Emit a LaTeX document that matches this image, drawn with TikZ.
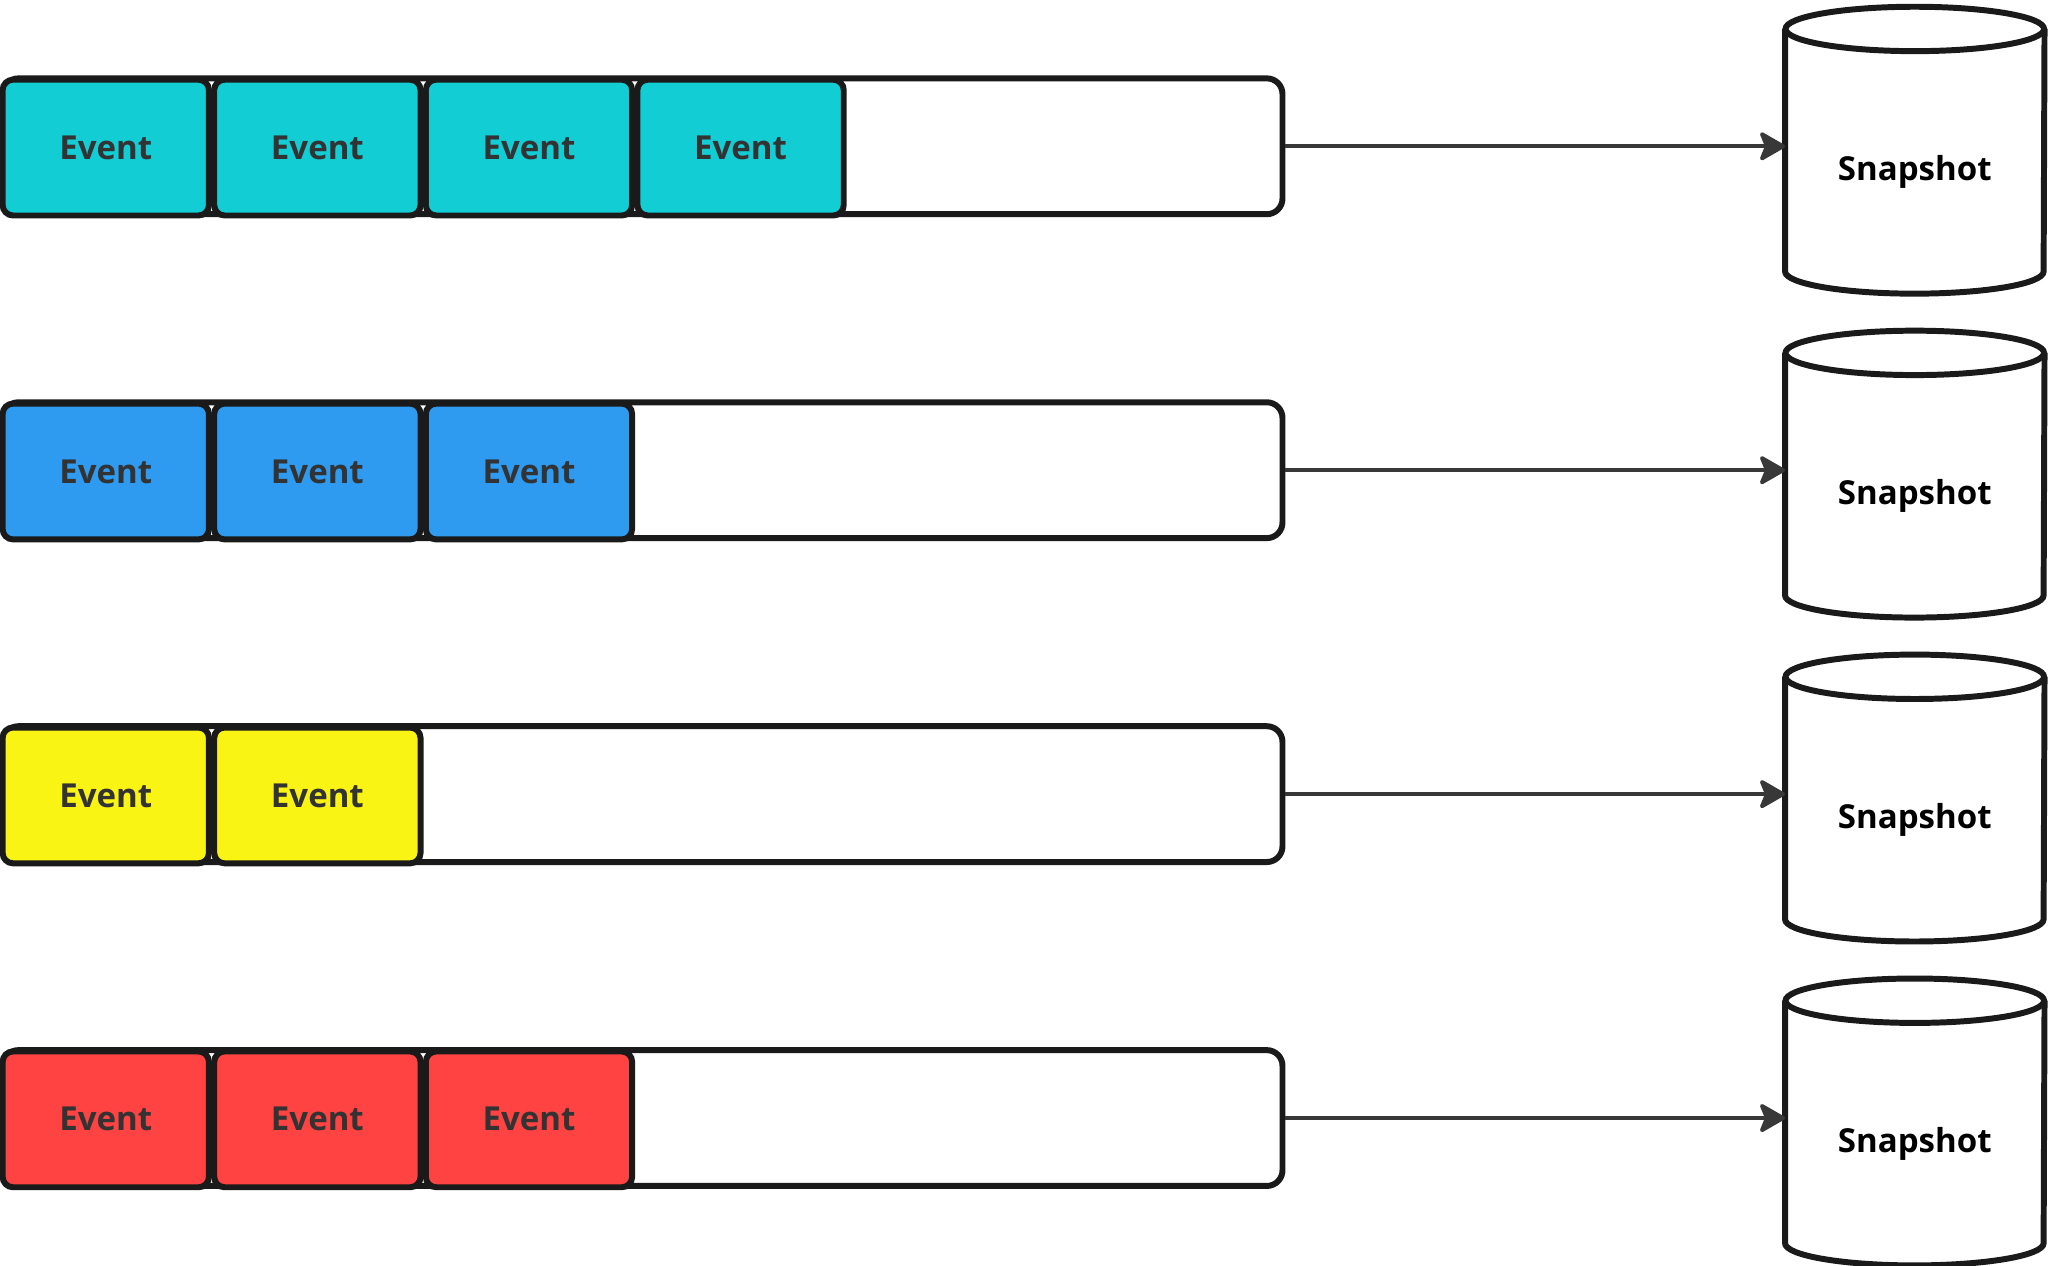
\documentclass[tikz,border=0pt]{standalone}
\usepackage{fontspec}
\setmainfont{Open Sans}
\usetikzlibrary{arrows.meta,positioning}
\definecolor{evcyan}{RGB}{19,205,212}
\definecolor{evblue}{RGB}{46,155,240}
\definecolor{evyellow}{RGB}{250,244,20}
\definecolor{evred}{RGB}{255,67,67}
\definecolor{evtext}{RGB}{51,51,51}
\definecolor{edge}{RGB}{26,26,26}
\definecolor{flowgray}{RGB}{56,56,56}
\tikzset{
    lane/.style={draw=edge, line width=2.6pt, rounded corners=0.24cm, fill=white,
        minimum width=19.6cm, minimum height=2.08cm, inner sep=0pt},
    event/.style={draw=edge, line width=2.6pt, rounded corners=0.16cm, fill=#1,
        minimum width=3.16cm, minimum height=2.08cm, inner sep=0pt, text=evtext,
        font=\bfseries\fontsize{14.4}{17}\selectfont},
    snapshot/.style={minimum width=3.96cm, minimum height=3.70cm, inner sep=0pt,
        text=black, font=\bfseries\fontsize{14.4}{17}\selectfont},
    drum/.style={draw=edge, line width=2.6pt},
    flow/.style={draw=flowgray, line width=1.7pt,
        -{Stealth[length=0.44cm, width=0.5cm, inset=0.1cm, round]}}
}
\begin{document}
\begin{tikzpicture}[x=0.02cm, y=-0.02cm]
    \useasboundingbox (0,0) rectangle (1568,969);
    % lanes
    \node[lane] (lane1) at (492,112) {};
    \node[lane] (lane2) at (492,360) {};
    \node[lane] (lane3) at (492,608) {};
    \node[lane] (lane4) at (492,856) {};
    % events
    \node[event=evcyan] (e11) at (81,113) {Event};
    \node[event=evcyan] (e12) at (243,113) {Event};
    \node[event=evcyan] (e13) at (405,113) {Event};
    \node[event=evcyan] (e14) at (567,113) {Event};
    \node[event=evblue] (e21) at (81,361) {Event};
    \node[event=evblue] (e22) at (243,361) {Event};
    \node[event=evblue] (e23) at (405,361) {Event};
    \node[event=evyellow] (e31) at (81,609) {Event};
    \node[event=evyellow] (e32) at (243,609) {Event};
    \node[event=evred] (e41) at (81,857) {Event};
    \node[event=evred] (e42) at (243,857) {Event};
    \node[event=evred] (e43) at (405,857) {Event};
    % snapshots
    \node[snapshot] (snap1) at (1466,132) {Snapshot};
    \node[snapshot] (snap2) at (1466,380) {Snapshot};
    \node[snapshot] (snap3) at (1466,628) {Snapshot};
    \node[snapshot] (snap4) at (1466,876) {Snapshot};
    \draw[drum] ([yshift=0.34cm]snap1.north west) -- ([yshift=0.34cm]snap1.south west) arc[start angle=180, end angle=360, x radius=1.98cm, y radius=0.34cm] -- ([yshift=0.34cm]snap1.north east);
    \draw[drum] ([yshift=0.34cm]snap1.north) ellipse [x radius=1.98cm, y radius=0.34cm];
    \draw[drum] ([yshift=0.34cm]snap2.north west) -- ([yshift=0.34cm]snap2.south west) arc[start angle=180, end angle=360, x radius=1.98cm, y radius=0.34cm] -- ([yshift=0.34cm]snap2.north east);
    \draw[drum] ([yshift=0.34cm]snap2.north) ellipse [x radius=1.98cm, y radius=0.34cm];
    \draw[drum] ([yshift=0.34cm]snap3.north west) -- ([yshift=0.34cm]snap3.south west) arc[start angle=180, end angle=360, x radius=1.98cm, y radius=0.34cm] -- ([yshift=0.34cm]snap3.north east);
    \draw[drum] ([yshift=0.34cm]snap3.north) ellipse [x radius=1.98cm, y radius=0.34cm];
    \draw[drum] ([yshift=0.34cm]snap4.north west) -- ([yshift=0.34cm]snap4.south west) arc[start angle=180, end angle=360, x radius=1.98cm, y radius=0.34cm] -- ([yshift=0.34cm]snap4.north east);
    \draw[drum] ([yshift=0.34cm]snap4.north) ellipse [x radius=1.98cm, y radius=0.34cm];
    % flows
    \draw[flow] (lane1.east) -- (lane1.east -| snap1.west);
    \draw[flow] (lane2.east) -- (lane2.east -| snap2.west);
    \draw[flow] (lane3.east) -- (lane3.east -| snap3.west);
    \draw[flow] (lane4.east) -- (lane4.east -| snap4.west);
\end{tikzpicture}
\end{document}
